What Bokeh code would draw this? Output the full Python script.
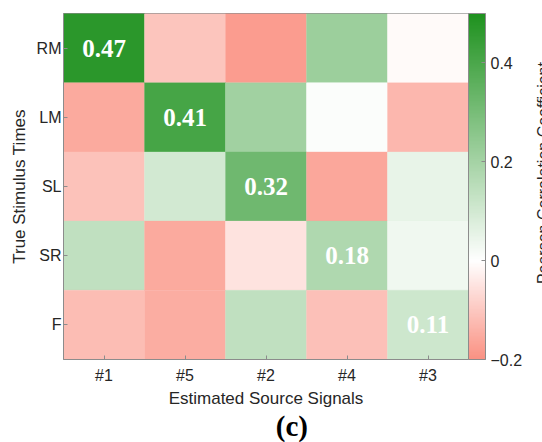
import math
from bokeh.plotting import figure
from bokeh.models import (LinearColorMapper, ColorBar, FixedTicker, Label,
                          ColumnDataSource)
from bokeh.core.properties import value
from bokeh.embed import file_html
from bokeh.resources import INLINE

# ---------------- data ----------------
cols = ["#1", "#5", "#2", "#4", "#3"]          # Estimated Source Signals
rows = ["RM", "LM", "SL", "SR", "F"]           # True Stimulus Times
rm_vals = [0.47, -0.105, -0.18, 0.22, -0.01]
lm_vals = [-0.155, 0.41, 0.21, 0.01, -0.13]
sl_vals = [-0.11, 0.10, 0.32, -0.16, 0.05]
sr_vals = [0.14, -0.155, -0.05, 0.18, 0.033]
f_vals = [-0.12, -0.15, 0.14, -0.115, 0.11]
annot_cols = ["#1", "#5", "#2", "#4", "#3"]    # annotated (matched) cell per row
cbar_ticks = [-0.2, 0, 0.2, 0.4]
cbar_title = "Pearson Correlation Coefficient"
cmin, cmax = -0.2, 0.5

matrix = [rm_vals, lm_vals, sl_vals, sr_vals, f_vals]

# ---------------- colour map (red - white - green) ----------------
RED = (250, 145, 130)
WHITE = (255, 255, 255)
GREEN = (30, 145, 30)
N = 256
palette = []
for i in range(N):
    v = cmin + (i + 0.5) / N * (cmax - cmin)
    if v < 0:
        t = v / cmin
        c = [WHITE[k] * (1 - t) + RED[k] * t for k in range(3)]
    else:
        t = v / cmax
        c = [WHITE[k] * (1 - t) + GREEN[k] * t for k in range(3)]
    palette.append("#%02x%02x%02x" % tuple(int(round(x)) for x in c))
mapper = LinearColorMapper(palette=palette, low=cmin, high=cmax)

xs, ys, vs = [], [], []
for r, rv in zip(rows, matrix):
    for c, v in zip(cols, rv):
        xs.append(c); ys.append(r); vs.append(v)
src = ColumnDataSource(dict(x=xs, y=ys, v=vs))

ax_, ay_, at_ = [], [], []
for r, c, rv in zip(rows, annot_cols, matrix):
    ax_.append(c); ay_.append(r); at_.append(f"{rv[cols.index(c)]:.2f}")
asrc = ColumnDataSource(dict(x=ax_, y=ay_, t=at_))

# ---------------- figure ----------------
W, H = 542, 442
p = figure(width=W, height=H, x_range=cols, y_range=list(reversed(rows)),
           output_backend="svg", toolbar_location=None,
           min_border_left=63, min_border_right=69,
           min_border_top=13, min_border_bottom=81)
p.grid.visible = False
p.outline_line_color = "#8c8c8c"

p.rect(x="x", y="y", width=1, height=1, source=src,
       fill_color={"field": "v", "transform": mapper},
       line_color={"field": "v", "transform": mapper}, line_width=0.3)

p.text(x="x", y="y", text="t", source=asrc, text_color="white",
       text_font=value("Liberation Serif"), text_font_style="bold",
       text_font_size="25px", text_align="center", text_baseline="middle")

TXT = "#262626"
AX = "#8c8c8c"
for ax in (p.xaxis[0], p.yaxis[0]):
    ax.major_tick_in = 4
    ax.major_tick_out = 0
    ax.minor_tick_line_color = None
    ax.axis_line_color = AX
    ax.major_tick_line_color = AX
    ax.major_label_text_font = "Liberation Sans"
    ax.major_label_text_font_size = "16px"
    ax.major_label_text_color = TXT
    ax.axis_label_text_font = "Liberation Sans"
    ax.axis_label_text_font_size = "17px"
    ax.axis_label_text_font_style = "normal"
    ax.axis_label_text_color = TXT

p.xaxis.axis_label = "Estimated Source Signals"
p.yaxis.axis_label = "True Stimulus Times"
p.xaxis.major_label_standoff = 7
p.xaxis.axis_label_standoff = 2
p.yaxis.major_label_standoff = 2
p.yaxis.axis_label_standoff = 5

cb = ColorBar(color_mapper=mapper, ticker=FixedTicker(ticks=cbar_ticks),
              width=17, padding=0, margin=0, label_standoff=5,
              major_tick_in=4, major_tick_out=0, major_tick_line_color=AX,
              bar_line_color=AX, border_line_color=None,
              background_fill_alpha=0,
              major_label_text_font="Liberation Sans",
              major_label_text_font_size="16px",
              major_label_text_color=TXT)
p.add_layout(cb, "right")

# colour-bar title (rotated, running past the right edge as in the original)
p.add_layout(Label(x=5.92, y=2.694, text=cbar_title,
                   angle=math.pi / 2, text_align="center",
                   text_baseline="middle", text_font="Liberation Sans",
                   text_font_size="16px", text_color=TXT), "right")

# panel tag
p.add_layout(Label(x=2.82, y=-0.963, text="(c)", text_align="center",
                   text_baseline="middle", text_font="Liberation Serif",
                   text_font_style="bold", text_font_size="29px",
                   text_color="black"), "below")

open("out.html", "w").write(file_html(p, INLINE))
